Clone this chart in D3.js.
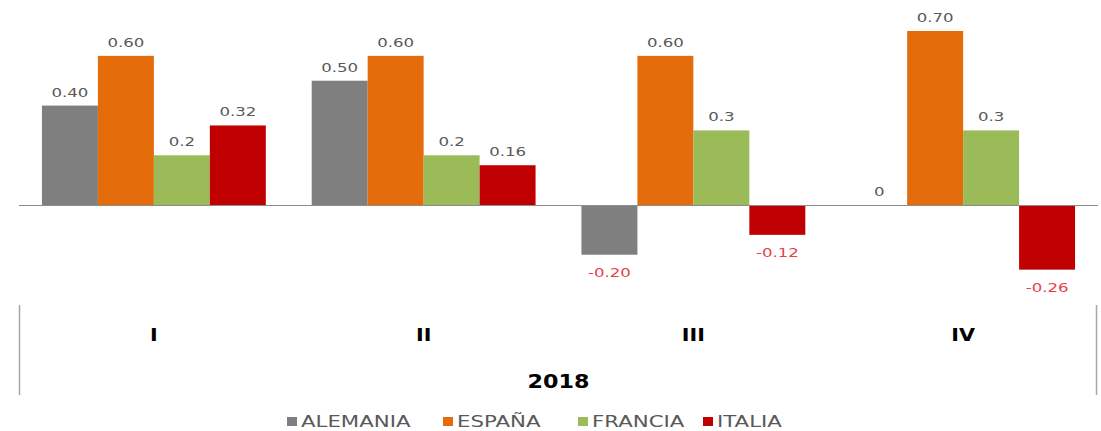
<!DOCTYPE html>
<html>
<head>
<meta charset="utf-8">
<script src="https://cdn.jsdelivr.net/npm/d3@7"></script>
<style>
  html, body { margin: 0; padding: 0; background: #ffffff; }
  svg { display: block; }
  text { font-family: "DejaVu Sans", sans-serif; }
</style>
</head>
<body>
<svg id="chart" width="1101" height="431"></svg>
<script>
// ---- data ----
const quarters = ["I", "II", "III", "IV"];
const year = "2018";
const series = ["ALEMANIA", "ESPAÑA", "FRANCIA", "ITALIA"];
const alemania = [0.40, 0.50, -0.20, 0];
const espana   = [0.60, 0.60, 0.60, 0.70];
const francia  = [0.2, 0.2, 0.3, 0.3];
const italia   = [0.32, 0.16, -0.12, -0.26];
const decimals = [2, 2, 1, 2];
const colors   = ["#7f7f7f", "#e46c0a", "#9bbb59", "#c00000"];

const values = [alemania, espana, francia, italia];
const rows = [];
quarters.forEach((q, qi) => {
  series.forEach((s, si) => {
    rows.push({ q, s, si, v: values[si][qi] });
  });
});

const svg = d3.select("#chart");
const SX = 1.38; // horizontal stretch of text

const x0 = d3.scaleBand().domain(quarters).range([19, 1098]).padding(0);
const x1 = d3.scaleBand().domain(series).range([0, x0.bandwidth()])
  .paddingInner(0).paddingOuter(0.41);
const y = d3.scaleLinear().domain([0, 0.7]).range([205, 31]);

// bars
svg.append("g").selectAll("rect").data(rows).join("rect")
  .attr("x", d => x0(d.q) + x1(d.s))
  .attr("width", x1.bandwidth())
  .attr("y", d => y(Math.max(0, d.v)))
  .attr("height", d => Math.abs(y(d.v) - y(0)))
  .attr("fill", d => colors[d.si]);

// zero axis line
svg.append("line")
  .attr("x1", 19).attr("x2", 1098)
  .attr("y1", y(0) + 0.5).attr("y2", y(0) + 0.5)
  .attr("stroke", "#8c8c8c").attr("stroke-width", 1);

// value labels
const fmt = d => d.v === 0 ? "0" : d.v.toFixed(decimals[d.si]);
svg.append("g").selectAll("text").data(rows).join("text")
  .attr("transform", d => {
    const cx = x0(d.q) + x1(d.s) + x1.bandwidth() / 2;
    const cy = d.v >= 0 ? y(d.v) - 9 : y(d.v) + 22;
    return `translate(${cx},${cy}) scale(${SX},1)`;
  })
  .attr("text-anchor", "middle")
  .attr("font-size", 12)
  .attr("fill", d => d.v < 0 ? "#e8404a" : "#595959")
  .text(fmt);

// category axis (quarters)
const xAxis = d3.axisBottom(x0).tickSize(0).tickPadding(0);
const gx = svg.append("g").attr("transform", "translate(0,341)").call(xAxis);
gx.select(".domain").remove();
gx.selectAll(".tick text")
  .attr("font-family", "DejaVu Sans, sans-serif")
  .attr("font-size", 18)
  .attr("font-weight", "bold")
  .attr("fill", "#000")
  .attr("dy", 0)
  .attr("y", 0)
  .attr("transform", "scale(1.15,1)")
  .attr("x", 0);
gx.selectAll(".tick").each(function(d) {
  const t = d3.select(this);
  t.attr("transform", `translate(${x0(d) + x0.bandwidth() / 2},0)`);
});

// vertical separators at the outer edges
[19, 1096].forEach(xx => {
  svg.append("line")
    .attr("x1", xx + 0.5).attr("x2", xx + 0.5)
    .attr("y1", 305).attr("y2", 395)
    .attr("stroke", "#a6a6a6").attr("stroke-width", 1.5);
});

// year label
svg.append("text")
  .attr("transform", `translate(${(19 + 1098) / 2},388) scale(1.17,1)`)
  .attr("text-anchor", "middle")
  .attr("font-size", 19)
  .attr("font-weight", "bold")
  .attr("fill", "#000")
  .text(year);

// legend
const legendX = [287, 443, 578, 703];
const lg = svg.append("g").selectAll("g").data(series).join("g")
  .attr("transform", (d, i) => `translate(${legendX[i]},0)`);
lg.append("rect")
  .attr("x", 0).attr("y", 417).attr("width", 10).attr("height", 9)
  .attr("fill", (d, i) => colors[i]);
lg.append("text")
  .attr("transform", `translate(14,427) scale(1.42,1)`)
  .attr("font-size", 15)
  .attr("fill", "#595959")
  .text(d => d);
</script>
</body>
</html>
